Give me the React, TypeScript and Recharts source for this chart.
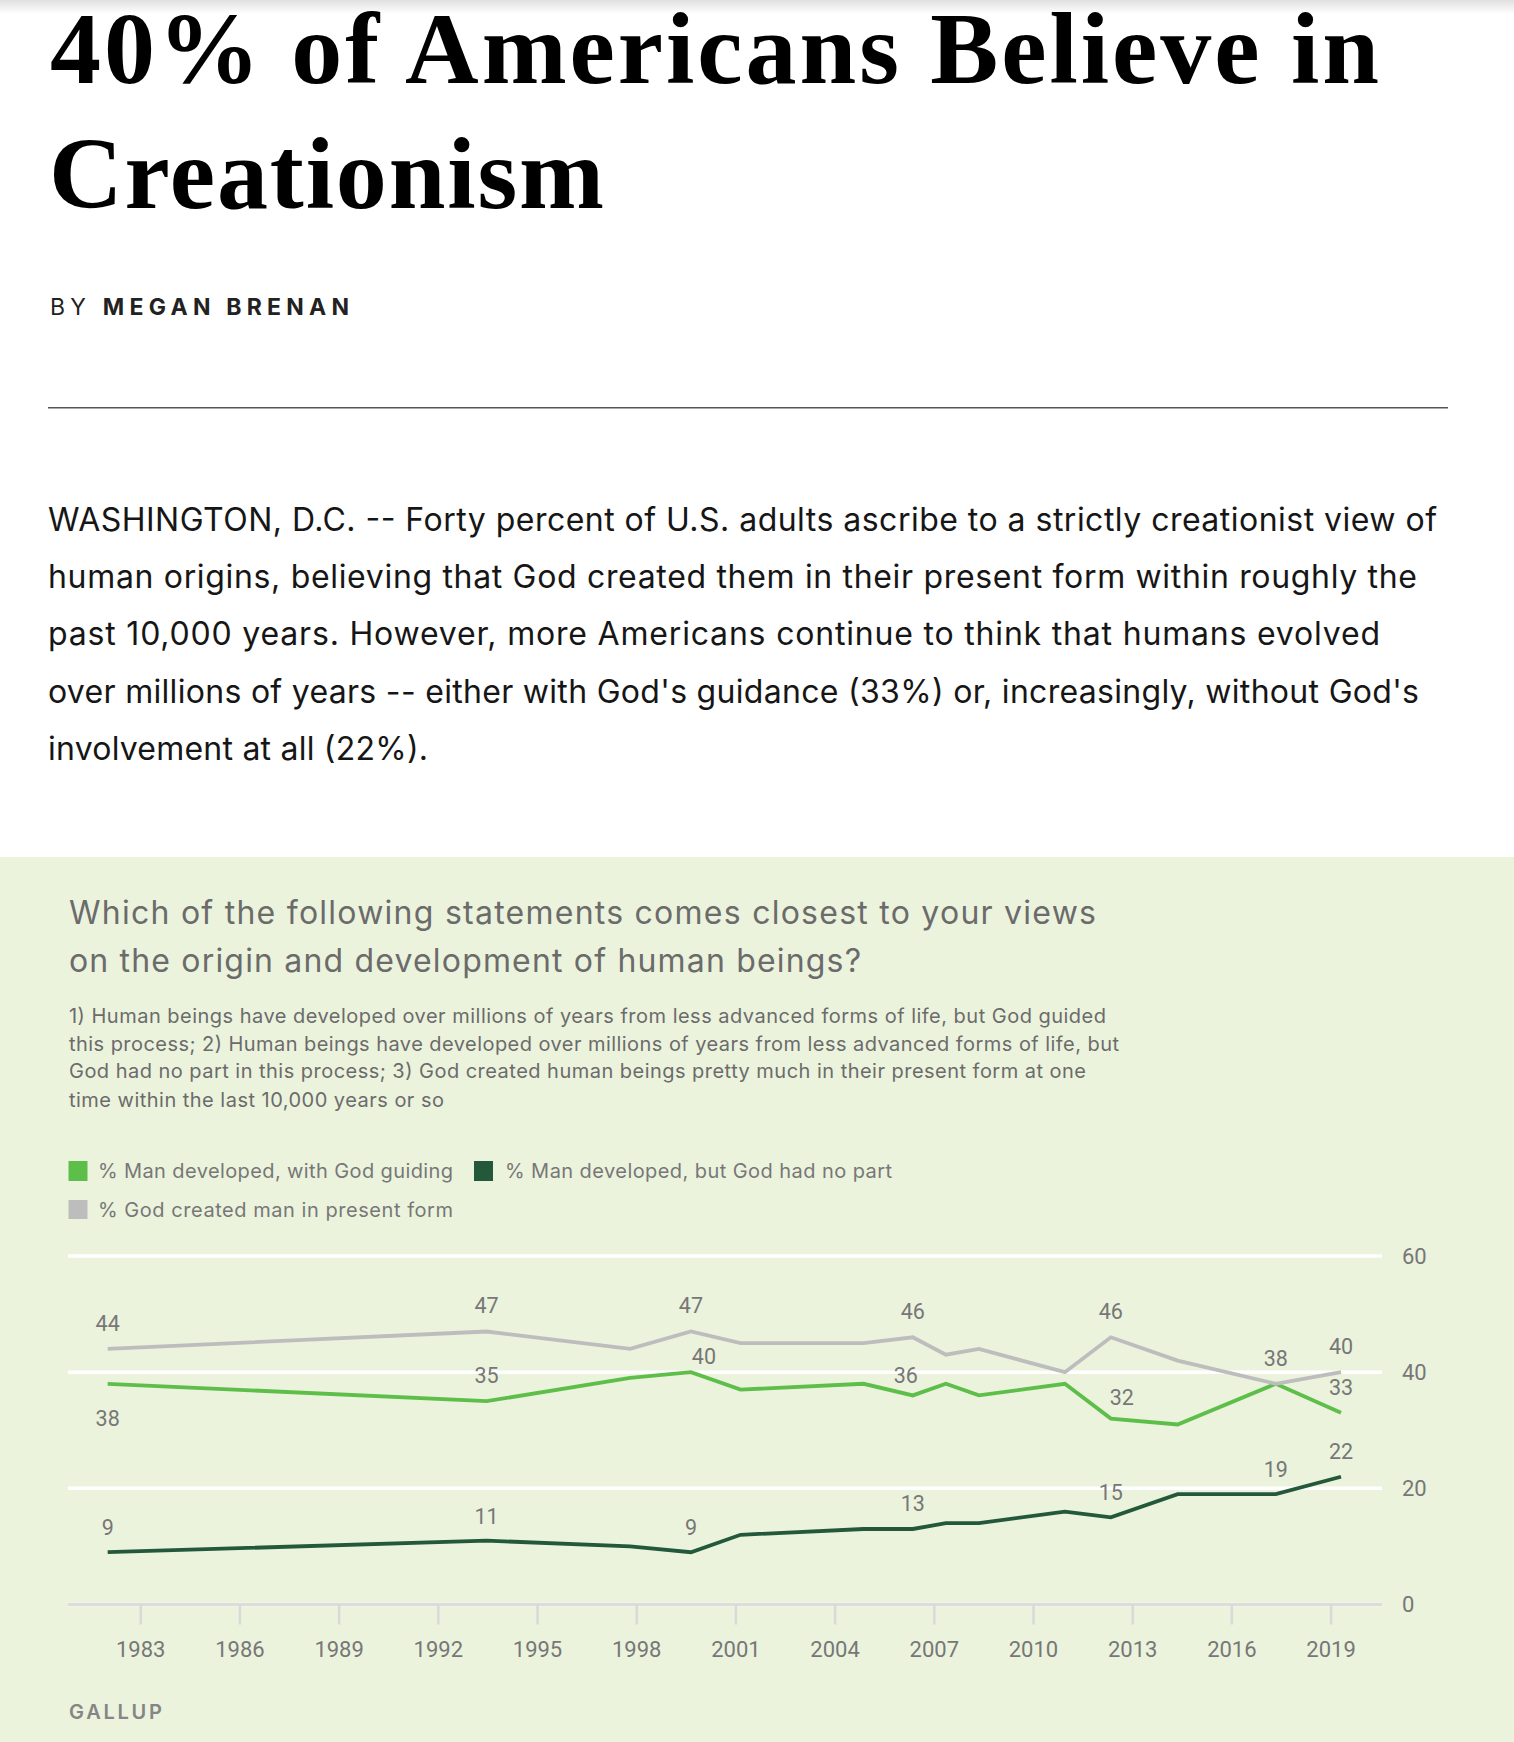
import React from 'react';
import { LineChart, Line, XAxis, YAxis, CartesianGrid, LabelList } from 'recharts';

// ---- Data ----
const years = [1982.0, 1993.46, 1997.8, 1999.64, 2001.14, 2004.86, 2006.35, 2007.35, 2008.35, 2010.95, 2012.34, 2014.36, 2017.33, 2019.3];
const withGod = [38, 35, 39, 40, 37, 38, 36, 38, 36, 38, 32, 31, 38, 33];
const noGod = [9, 11, 10, 9, 12, 13, 13, 14, 14, 16, 15, 19, 19, 22];
const created = [44, 47, 44, 47, 45, 45, 46, 43, 44, 40, 46, 42, 38, 40];

const xTicks = [1983, 1986, 1989, 1992, 1995, 1998, 2001, 2004, 2007, 2010, 2013, 2016, 2019];
const yTicks = [0, 20, 40, 60];

const seriesNames = {
  withGod: '% Man developed, with God guiding',
  noGod: '% Man developed, but God had no part',
  created: '% God created man in present form',
};
const colors = { withGod: '#5ebe4a', noGod: '#23593a', created: '#bdbdbe' };

// label placement (offset of label centre from its point)
const createdLabelAt: Record<number, [number, number]> = { 0: [0, -26], 1: [0, -26], 3: [0, -26], 6: [0, -26], 10: [0, -26], 12: [0, -26], 13: [0, -26] };
const withGodLabelAt: Record<number, [number, number]> = { 0: [0, 34], 1: [0, -25.5], 3: [13, -16], 6: [-7, -20], 10: [11, -21], 13: [0, -25.5] };
const noGodLabelAt: Record<number, [number, number]> = { 0: [0, -24.5], 1: [0, -24.5], 3: [0, -24.5], 6: [0, -25.5], 10: [0, -25.5], 12: [0, -25], 13: [0, -25] };

const data = years.map((year, i) => ({ year, withGod: withGod[i], noGod: noGod[i], created: created[i] }));

const SANS = "Roboto, 'Noto Sans', Arial, sans-serif";
const GROT = "Inter, Roboto, 'Noto Sans', Arial, sans-serif";
const TXT = '#777777';

const makeLabel = (at: Record<number, [number, number]>) => (props: any) => {
  const { x, y, value, index } = props;
  const off = at[index];
  if (!off) return null;
  return (
    <text x={x + off[0]} y={y + off[1]} dy="0.36em" textAnchor="middle" fontFamily={SANS} fontSize={21.5} fill={TXT}>
      {value}
    </text>
  );
};

const XTick = (props: any) => {
  const { x, payload } = props;
  return (
    <text x={x} y={419} textAnchor="middle" dy="0.36em" fontFamily={SANS} fontSize={22} fill={TXT}>
      {payload.value}
    </text>
  );
};

const YTick = (props: any) => {
  const { x, y, payload } = props;
  return (
    <text x={x} y={y} dy="0.36em" textAnchor="start" fontFamily={SANS} fontSize={22} fill={TXT}>
      {payload.value}
    </text>
  );
};

export default function App() {
  return (
    <div style={{ position: 'absolute', left: 0, top: 0, width: 1514, height: 1742, background: '#fff', overflow: 'hidden' }}>
      <svg width={1514} height={1742} style={{ position: 'absolute', left: 0, top: 0 }}>
        <defs>
          <linearGradient id="shade" x1="0" y1="0" x2="0" y2="1">
            <stop offset="0" stopColor="#000" stopOpacity={0.12} />
            <stop offset="1" stopColor="#000" stopOpacity={0} />
          </linearGradient>
        </defs>
        <rect x={0} y={0} width={1514} height={14} fill="url(#shade)" />
        {/* Headline */}
        <text x={50} y={83} fontFamily="'Liberation Serif', 'Times New Roman', serif" fontWeight={700} fontSize={102} fill="#000" textLength={1329}>
          40% of Americans Believe in
        </text>
        <text x={49} y={208} fontFamily="'Liberation Serif', 'Times New Roman', serif" fontWeight={700} fontSize={102} fill="#000" textLength={555}>
          Creationism
        </text>
        <text x={50} y={315} fontFamily={GROT} fontSize={23} fill="#222" textLength={300} letterSpacing={1}>
          <tspan fontWeight={400}>BY </tspan>
          <tspan fontWeight={700}>MEGAN BRENAN</tspan>
        </text>
        <rect x={48} y={407} width={1400} height={1.5} fill="#555" />
        {/* Paragraph */}
        <g fontFamily={GROT} fontSize={32} fill="#161616">
          <text x={48} y={531} textLength={1389}>WASHINGTON, D.C. -- Forty percent of U.S. adults ascribe to a strictly creationist view of</text>
          <text x={48} y={588} textLength={1369}>human origins, believing that God created them in their present form within roughly the</text>
          <text x={48} y={645} textLength={1332}>past 10,000 years. However, more Americans continue to think that humans evolved</text>
          <text x={48} y={703} textLength={1371}>over millions of years -- either with God's guidance (33%) or, increasingly, without God's</text>
          <text x={48} y={760} textLength={380}>involvement at all (22%).</text>
        </g>
        {/* Green panel */}
        <rect x={0} y={857} width={1514} height={885} fill="#ebf3dd" />
        <g fontFamily={GROT} fontSize={32} fill="#6b6b6b">
          <text x={69} y={924} textLength={1027}>Which of the following statements comes closest to your views</text>
          <text x={69} y={972} textLength={792}>on the origin and development of human beings?</text>
        </g>
        <g fontFamily={GROT} fontSize={20} fill="#6b6b6b">
          <text x={69} y={1023} textLength={1037}>1) Human beings have developed over millions of years from less advanced forms of life, but God guided</text>
          <text x={69} y={1051} textLength={1050}>this process; 2) Human beings have developed over millions of years from less advanced forms of life, but</text>
          <text x={69} y={1078} textLength={1017}>God had no part in this process; 3) God created human beings pretty much in their present form at one</text>
          <text x={69} y={1107} textLength={375}>time within the last 10,000 years or so</text>
        </g>
        {/* Legend */}
        <rect x={68.5} y={1161} width={19} height={20} fill={colors.withGod} />
        <text x={98} y={1178} fontFamily={GROT} fontSize={20} fill={TXT} textLength={355}>{seriesNames.withGod}</text>
        <rect x={474} y={1161} width={19} height={20} fill={colors.noGod} />
        <text x={505} y={1178} fontFamily={GROT} fontSize={20} fill={TXT} textLength={387}>{seriesNames.noGod}</text>
        <rect x={68.5} y={1200} width={19} height={19} fill={colors.created} />
        <text x={98} y={1217} fontFamily={GROT} fontSize={20} fill={TXT} textLength={355}>{seriesNames.created}</text>
        {/* Source */}
        <text x={69} y={1719} fontFamily={GROT} fontSize={20} fontWeight={600} fill="#858585" textLength={93}>GALLUP</text>
      </svg>
      <div style={{ position: 'absolute', left: 0, top: 1230 }}>
        <LineChart width={1514} height={470} data={data} margin={{ top: 26, right: 0, bottom: 0, left: 68 }}>
          <CartesianGrid vertical={false} horizontal stroke="#ffffff" strokeWidth={3.5} />
          <XAxis
            dataKey="year"
            type="number"
            domain={[1980.8, 2020.54]}
            ticks={xTicks}
            interval={0}
            height={95.5}
            axisLine={{ stroke: '#dcdcdc', strokeWidth: 3 }}
            tickLine={{ stroke: '#d9d9d9', strokeWidth: 2.5 }}
            tickSize={20}
            tick={<XTick />}
            allowDataOverflow
          />
          <YAxis
            orientation="right"
            width={132}
            domain={[0, 60]}
            ticks={yTicks}
            axisLine={false}
            tickLine={false}
            tickSize={0}
            tickMargin={20}
            tick={<YTick />}
          />
          <Line type="linear" dataKey="withGod" stroke={colors.withGod} strokeWidth={3.8} dot={false} isAnimationActive={false}>
            <LabelList dataKey="withGod" content={makeLabel(withGodLabelAt)} />
          </Line>
          <Line type="linear" dataKey="noGod" stroke={colors.noGod} strokeWidth={3.8} dot={false} isAnimationActive={false}>
            <LabelList dataKey="noGod" content={makeLabel(noGodLabelAt)} />
          </Line>
          <Line type="linear" dataKey="created" stroke={colors.created} strokeWidth={3.8} dot={false} isAnimationActive={false}>
            <LabelList dataKey="created" content={makeLabel(createdLabelAt)} />
          </Line>
        </LineChart>
      </div>
    </div>
  );
}
